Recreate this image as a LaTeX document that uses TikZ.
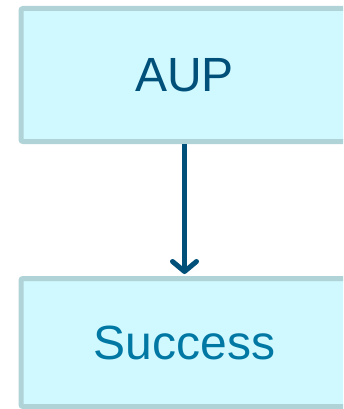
\documentclass[tikz,border=0pt]{standalone}
\usepackage{fontspec}
\setmainfont{Liberation Sans}
\usetikzlibrary{arrows.meta}
\definecolor{boxfill}{HTML}{CFF8FF}
\definecolor{boxline}{HTML}{AFD3D7}
\definecolor{darkblue}{HTML}{00507A}
\definecolor{midblue}{HTML}{0078A3}
\begin{document}
\begin{tikzpicture}[x=1pt,y=-1pt,
  flowbox/.style={draw=boxline, fill=boxfill, line width=5pt, rounded corners=2pt,
    minimum width=327pt, inner sep=0pt, font=\fontsize{48}{56}\selectfont},
  flowarrow/.style={draw=darkblue, line width=5pt,
    -{Straight Barb[length=10pt,width=24pt,line width=5pt,round]}}]
\useasboundingbox (0,0) rectangle (343,409);
\clip (0,0) rectangle (343,409);
\node[flowbox, minimum height=133pt, text=darkblue] (aup) at (184.5,75) {AUP};
\node[flowbox, minimum height=128pt, text=midblue] (succ) at (184.5,342.5) {Success};
\draw[flowarrow] (aup.south) -- ([yshift=2pt]succ.north);
\end{tikzpicture}
\end{document}
